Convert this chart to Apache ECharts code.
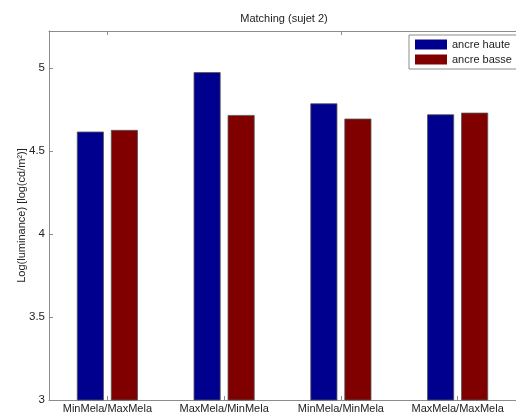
<!DOCTYPE html>
<html>
<head>
<meta charset="utf-8">
<script src="https://cdn.jsdelivr.net/npm/echarts@6/dist/echarts.min.js"></script>
<style>html,body{margin:0;padding:0;background:#fff;}#c{width:516px;height:417px;}</style>
</head>
<body>
<div id="c"></div>
<script>
const categories = ['MinMela/MaxMela', 'MaxMela/MinMela', 'MinMela/MinMela', 'MaxMela/MaxMela'];
const ancreHaute = [4.617, 4.975, 4.787, 4.721];
const ancreBasse = [4.627, 4.717, 4.695, 4.731];
const seriesNames = ['ancre haute', 'ancre basse'];
const titleText = 'Matching (sujet 2)';
const yAxisTitle = 'Log(luminance) [log(cd/m\u00B2)]';

const chart = echarts.init(document.getElementById('c'));
const frame = '#8c8c8c';
const txt = '#222';
const font = 'Liberation Sans, Arial, sans-serif';
chart.setOption({
  animation: false,
  graphic: [{
    type: 'text', x: 284, y: 19,
    style: { text: titleText, fontSize: 11, fontFamily: font, fill: txt, textAlign: 'center', textVerticalAlign: 'middle' }
  }],
  legend: {
    left: 409, top: 35,
    orient: 'vertical',
    data: seriesNames,
    icon: 'rect',
    itemWidth: 32, itemHeight: 10, itemGap: 4,
    padding: [4, 8, 4, 6],
    borderColor: frame, borderWidth: 1, backgroundColor: '#fff',
    textStyle: { fontSize: 11, fontFamily: font, color: txt, padding: [0, 0, 0, 0] },
    itemStyle: { borderWidth: 0 }
  },
  grid: { left: 49, top: 31, right: -4, bottom: 17, containLabel: false },
  xAxis: [{
    type: 'category', data: categories, position: 'bottom',
    axisLine: { show: true, lineStyle: { color: frame } },
    axisTick: { show: true, inside: true, alignWithLabel: true, length: 4, lineStyle: { color: frame } },
    axisLabel: { interval: 0, fontSize: 11, fontFamily: font, color: txt, margin: 3 },
    splitLine: { show: false }
  }, {
    type: 'category', data: categories, position: 'top',
    axisLine: { show: true, lineStyle: { color: frame } },
    axisTick: { show: true, inside: true, alignWithLabel: true, length: 4, lineStyle: { color: frame } },
    axisLabel: { show: false }
  }],
  yAxis: [{
    type: 'value', min: 3, max: 5.223, interval: 0.5,
    name: yAxisTitle, nameLocation: 'middle', nameGap: 22, nameRotate: 90, nameMoveOverlap: false,
    nameTextStyle: { fontSize: 11, fontFamily: font, color: txt },
    axisLine: { show: true, lineStyle: { color: frame } },
    axisTick: { show: true, inside: true, length: 4, lineStyle: { color: frame } },
    axisLabel: { fontSize: 11.5, fontFamily: font, color: txt, margin: 4, showMaxLabel: false,
      formatter: v => (Math.abs(v * 2 - Math.round(v * 2)) < 1e-6) ? String(v) : '' },
    splitLine: { show: false }
  }],
  series: [{
    name: seriesNames[0], type: 'bar', data: ancreHaute,
    barWidth: 27, barGap: '26%',
    itemStyle: { color: '#00008F', borderColor: '#555', borderWidth: 0.8 }
  }, {
    name: seriesNames[1], type: 'bar', data: ancreBasse,
    barWidth: 27, barGap: '26%',
    itemStyle: { color: '#800000', borderColor: '#555', borderWidth: 0.8 }
  }]
});
</script>
</body>
</html>
